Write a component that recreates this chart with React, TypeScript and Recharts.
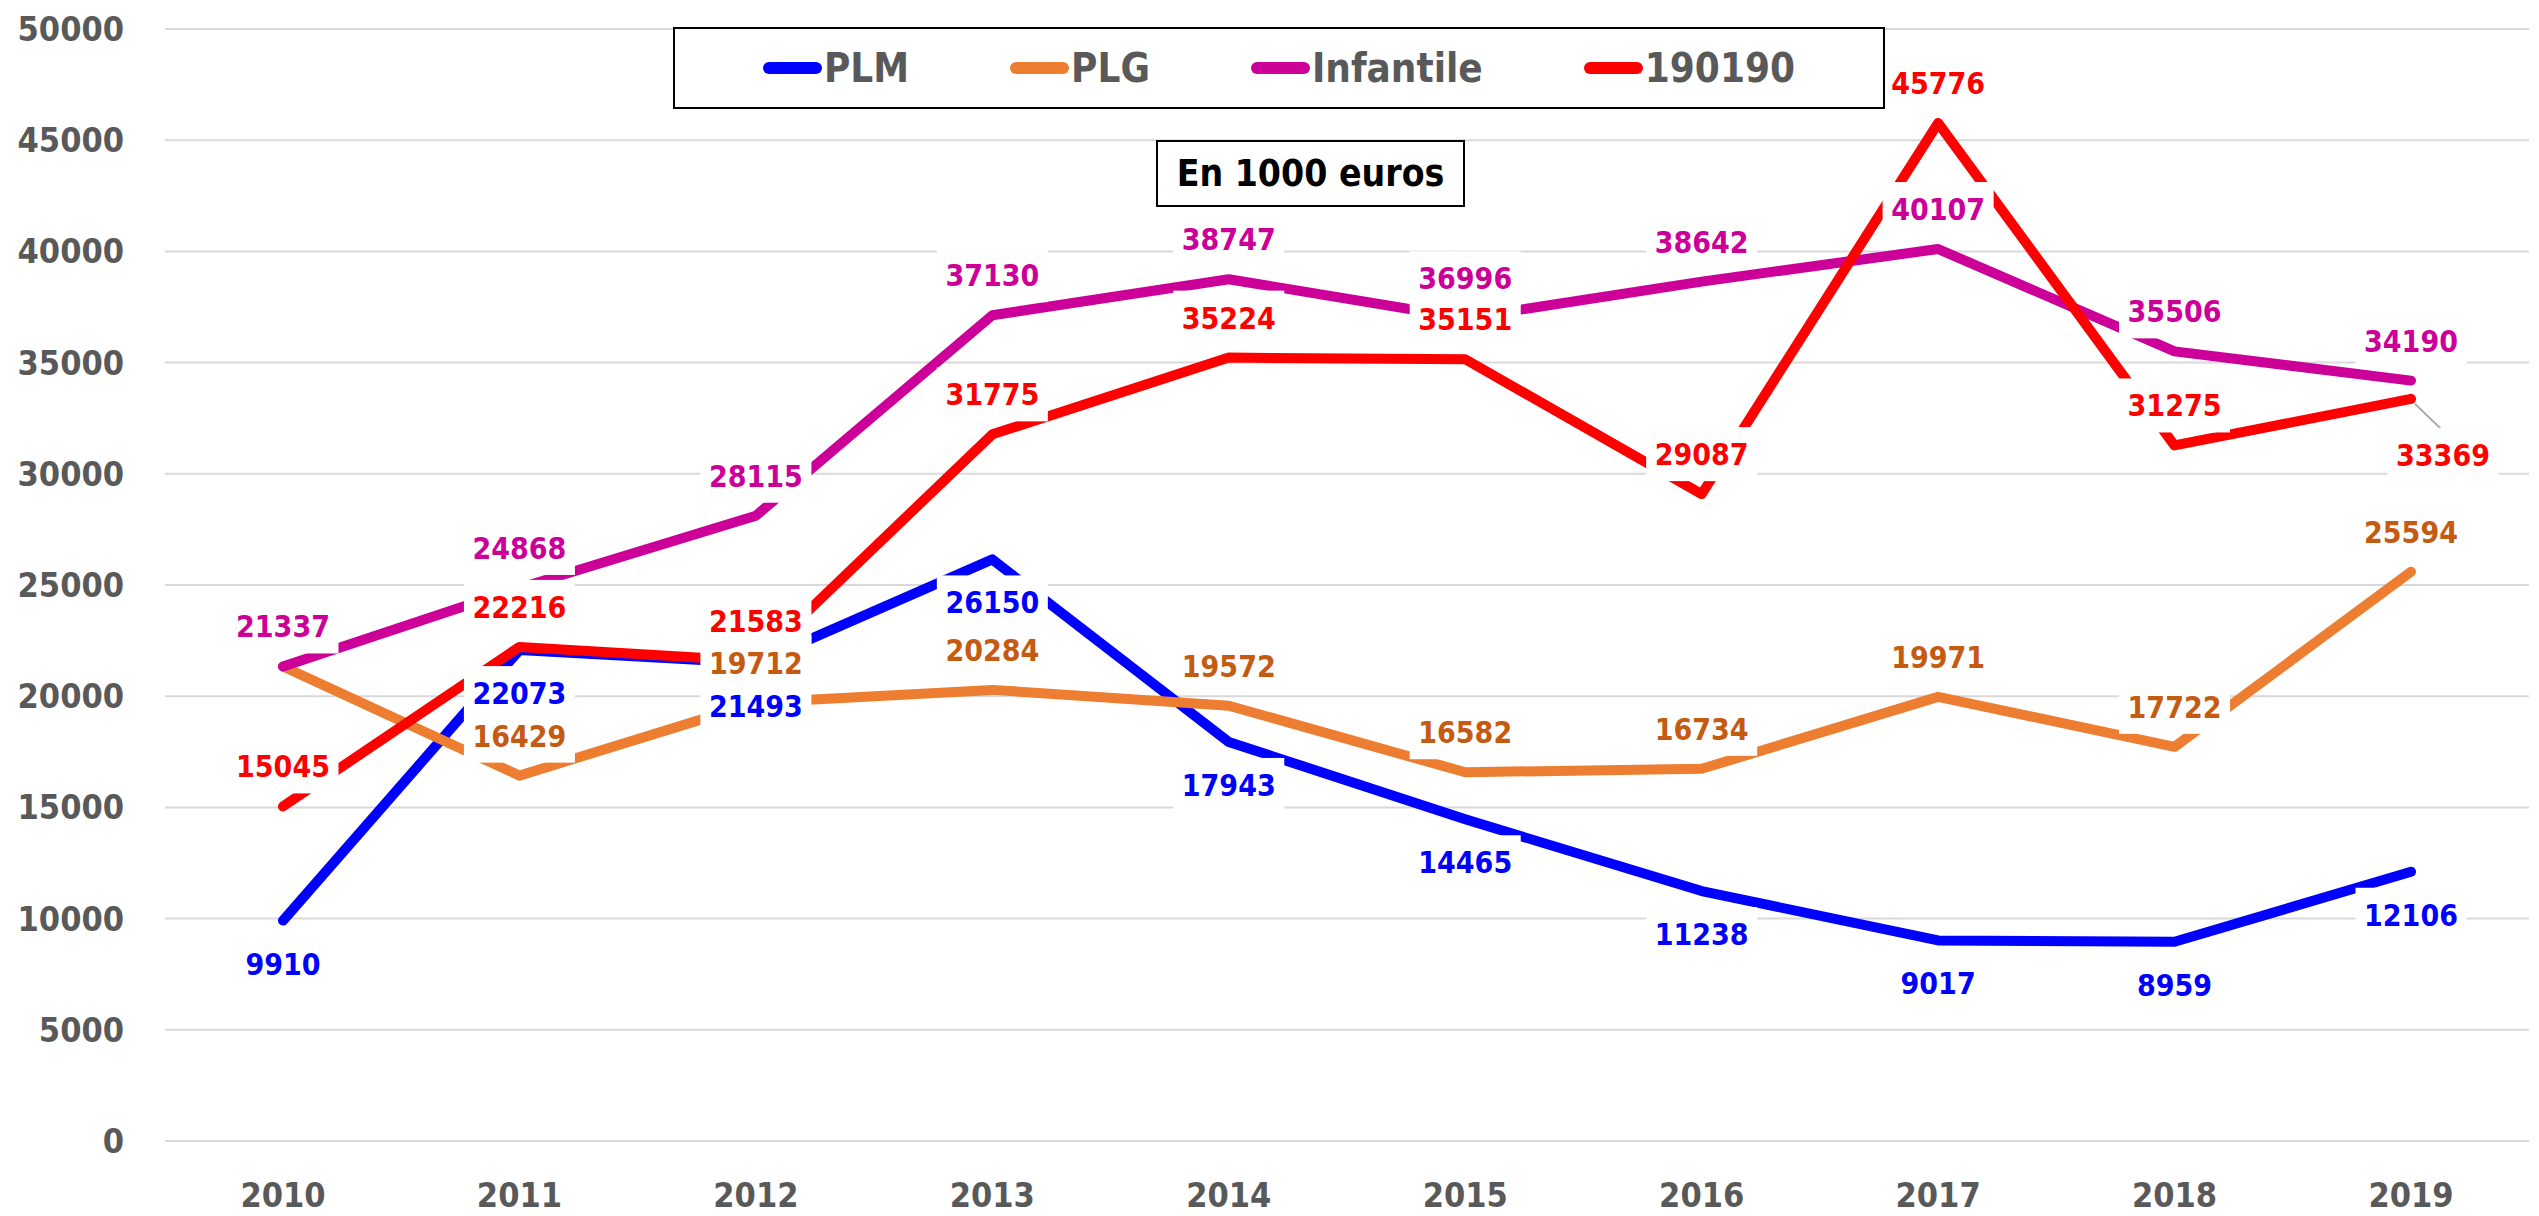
import React from 'react';
import { LineChart, Line, XAxis, YAxis, CartesianGrid, LabelList } from 'recharts';

const years = ['2010', '2011', '2012', '2013', '2014', '2015', '2016', '2017', '2018', '2019'];
const plm = [9910, 22073, 21493, 26150, 17943, 14465, 11238, 9017, 8959, 12106];
const plg = [21337, 16429, 19712, 20284, 19572, 16582, 16734, 19971, 17722, 25594];
const infantile = [21337, 24868, 28115, 37130, 38747, 36996, 38642, 40107, 35506, 34190];
const s190190 = [15045, 22216, 21583, 31775, 35224, 35151, 29087, 45776, 31275, 33369];
const yTicks = [0, 5000, 10000, 15000, 20000, 25000, 30000, 35000, 40000, 45000, 50000];

const FONT = "'DejaVu Sans Condensed', 'DejaVu Sans', sans-serif";
const AXIS_GREY = '#595959';

// series config: key, legend name, line colour, label colour, label side
const SERIES = [
  { key: 'plm', name: 'PLM', color: '#0000FF', labelColor: '#0000FF', side: 'below' },
  { key: 'plg', name: 'PLG', color: '#ED7D31', labelColor: '#C55A11', side: 'above' },
  { key: 'infantile', name: 'Infantile', color: '#CC0099', labelColor: '#CC0099', side: 'above' },
  { key: 's190190', name: '190190', color: '#FF0000', labelColor: '#FF0000', side: 'above' },
];

const data = years.map((year, i) => ({
  year,
  plm: plm[i],
  plg: plg[i],
  infantile: infantile[i],
  s190190: s190190[i],
}));

function makeLabel(seriesKey: string, color: string, side: string) {
  return (props: any) => {
    const { x, y, value, index } = props;
    // PLG 2010 starts on the Infantile point, Excel shows only one label there
    if (seriesKey === 'plg' && index === 0) return null;
    let cx = x;
    let cy = side === 'below' ? y + 43 : y - 40;
    let leader = null;
    if (seriesKey === 's190190' && index === years.length - 1) {
      cx = x + 32;
      cy = y + 56;
      leader = <line x1={x + 4} y1={y + 5} x2={x + 30} y2={y + 30} stroke="#A6A6A6" strokeWidth={2} />;
    }
    const w = String(value).length * 19 + 16;
    return (
      <g>
        {leader}
        <rect x={cx - w / 2} y={cy - 27} width={w} height={54} fill="#FFFFFF" />
        <text
          x={cx}
          y={cy + 11}
          textAnchor="middle"
          fill={color}
          fontSize={30}
          fontWeight="bold"
          fontFamily={FONT}
        >
          {value}
        </text>
      </g>
    );
  };
}

function ChartLegend() {
  return (
    <div
      style={{
        position: 'absolute',
        left: 673,
        top: 27,
        width: 1208,
        height: 78,
        border: '2px solid #000',
        background: '#fff',
        display: 'flex',
        alignItems: 'center',
        justifyContent: 'center',
        gap: 101,
        fontFamily: FONT,
        fontWeight: 'bold',
        fontSize: 40,
        color: AXIS_GREY,
      }}
    >
      {SERIES.map(s => (
        <div key={s.key} style={{ display: 'flex', alignItems: 'center' }}>
          <span
            style={{ display: 'inline-block', width: 59, height: 12, borderRadius: 6, background: s.color, marginRight: 2 }}
          />
          <span>{s.name}</span>
        </div>
      ))}
    </div>
  );
}

export default function App() {
  const tickStyle = { fill: AXIS_GREY, fontSize: 34, fontWeight: 'bold', fontFamily: FONT };
  return (
    <div style={{ position: 'absolute', left: 0, top: 0, width: 2539, height: 1216, background: '#fff' }}>
      <LineChart width={2539} height={1216} data={data} margin={{ top: 29, right: 10, bottom: 0, left: 0 }}>
        <CartesianGrid vertical={false} stroke="#D9D9D9" strokeWidth={2} />
        <XAxis
          dataKey="year"
          axisLine={false}
          tickLine={false}
          tickSize={0}
          tickMargin={42}
          height={75}
          interval={0}
          padding={{ left: 118, right: 118 }}
          tick={tickStyle}
        />
        <YAxis
          domain={[0, 50000]}
          ticks={yTicks}
          axisLine={false}
          tickLine={false}
          tickSize={0}
          tickMargin={41}
          width={165}
          tick={tickStyle}
        />
        {SERIES.map(s => (
          <Line
            key={s.key}
            dataKey={s.key}
            name={s.name}
            stroke={s.color}
            strokeWidth={10}
            strokeLinecap="round"
            strokeLinejoin="round"
            dot={false}
            activeDot={false}
            isAnimationActive={false}
          />
        ))}
        {/* labels drawn after every line so their white boxes sit on top */}
        {SERIES.map(s => (
          <Line
            key={s.key + '-labels'}
            dataKey={s.key}
            stroke="none"
            legendType="none"
            dot={false}
            activeDot={false}
            isAnimationActive={false}
          >
            <LabelList dataKey={s.key} content={makeLabel(s.key, s.labelColor, s.side)} />
          </Line>
        ))}
      </LineChart>
      <ChartLegend />
      <div
        style={{
          position: 'absolute',
          left: 1156,
          top: 140,
          width: 305,
          height: 63,
          border: '2px solid #000',
          background: '#fff',
          display: 'flex',
          alignItems: 'center',
          justifyContent: 'center',
          fontFamily: FONT,
          fontWeight: 'bold',
          fontSize: 37,
          color: '#000',
        }}
      >
        En 1000 euros
      </div>
    </div>
  );
}
